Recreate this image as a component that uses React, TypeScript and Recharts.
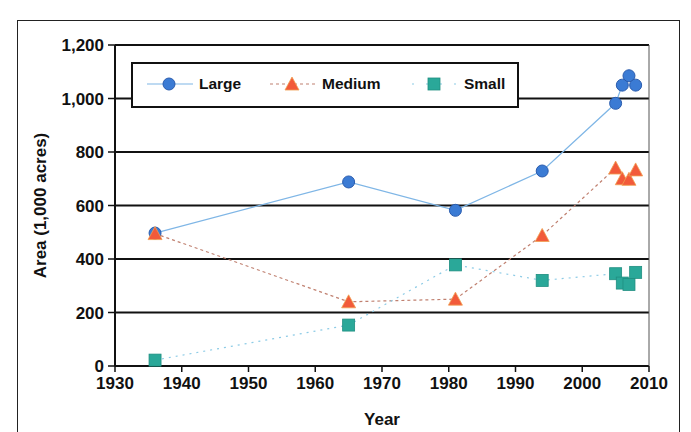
import React from 'react'
import { CartesianGrid, Line, LineChart, XAxis, YAxis } from 'recharts'

const years = [1936, 1965, 1981, 1994, 2005, 2006, 2007, 2008]
const large = [497, 688, 582, 729, 982, 1050, 1085, 1050]
const medium = [495, 240, 250, 488, 740, 700, 698, 733]
const small = [22, 153, 378, 320, 345, 310, 305, 350]
const xTicks = [1930, 1940, 1950, 1960, 1970, 1980, 1990, 2000, 2010]
const yTicks = [0, 200, 400, 600, 800, 1000, 1200]

const data = years.map((year, i) => ({ year, large: large[i], medium: medium[i], small: small[i] }))

const FONT = 'Arial, "Liberation Sans", sans-serif'

const Circle = (props: any) => {
  const { cx, cy } = props
  if (cx == null || cy == null) return null
  return <circle cx={cx} cy={cy} r={6} fill="#3b7bd4" stroke="#2a5cae" strokeWidth={1} />
}

const Triangle = (props: any) => {
  const { cx, cy } = props
  if (cx == null || cy == null) return null
  return (
    <polygon
      points={`${cx},${cy - 7} ${cx - 7},${cy + 6} ${cx + 7},${cy + 6}`}
      fill="#f25a3a"
      stroke="#f0a050"
      strokeWidth={0.8}
    />
  )
}

const Square = (props: any) => {
  const { cx, cy } = props
  if (cx == null || cy == null) return null
  return <rect x={cx - 6} y={cy - 6} width={12} height={12} fill="#2aa899" stroke="#1f8e80" strokeWidth={0.8} />
}

function LegendBox() {
  const item = (label: string, color: string, dash: string | undefined, marker: React.ReactNode, left: number) => (
    <div style={{ position: 'absolute', left, top: 10, display: 'flex', alignItems: 'center' }}>
      <svg width={46} height={20}>
        <line x1={0} y1={10} x2={46} y2={10} stroke={color} strokeWidth={1.2} strokeDasharray={dash} />
        {marker}
      </svg>
      <span style={{ marginLeft: 6, fontFamily: FONT, fontWeight: 'bold', fontSize: 15.5, color: '#111' }}>{label}</span>
    </div>
  )
  return (
    <div
      style={{
        position: 'absolute',
        left: 131,
        top: 62,
        width: 388,
        height: 46,
        border: '2px solid #111',
        background: '#fff',
        boxSizing: 'border-box',
      }}
    >
      {item('Large', '#7fb6e6', undefined, <Circle cx={22} cy={10} />, 14)}
      {item('Medium', '#c08070', '3 3', <Triangle cx={22} cy={10} />, 137)}
      {item('Small', '#8ccbe6', '2 12', <Square cx={22} cy={10} />, 279)}
    </div>
  )
}

const YLabel = (props: any) => {
  const { viewBox } = props
  const cy = viewBox.y + viewBox.height / 2
  return (
    <text x={40} y={cy} dy={6} transform={`rotate(-90, 40, ${cy})`} textAnchor="middle" fontFamily={FONT} fontWeight="bold" fontSize={17} fill="#111">
      Area (1,000 acres)
    </text>
  )
}

export default function App() {
  return (
    <div style={{ position: 'absolute', left: 0, top: 0, width: 691, height: 432, background: '#fff', overflow: 'hidden' }}>
      <div
        style={{
          position: 'absolute',
          left: 17,
          top: 20,
          width: 663,
          height: 440,
          border: '1.5px solid #222',
          boxSizing: 'border-box',
        }}
      />
      <LineChart
        width={691}
        height={432}
        data={data}
        margin={{ top: 45, right: 41, left: 20, bottom: 0 }}
        style={{ position: 'absolute', left: 0, top: 0 }}
      >
        <CartesianGrid horizontal vertical={false} stroke="#111" strokeWidth={2} />
        <XAxis
          dataKey="year"
          type="number"
          domain={[1930, 2010]}
          ticks={xTicks}
          tick={{ fontFamily: FONT, fontWeight: 'bold', fontSize: 17, fill: '#111' }}
          tickSize={6}
          tickMargin={5}
          tickLine={{ stroke: '#111', strokeWidth: 1.5 }}
          axisLine={{ stroke: '#111', strokeWidth: 2 }}
          height={66}
          label={{ value: 'Year', position: 'insideBottom', offset: 7, fontFamily: FONT, fontWeight: 'bold', fontSize: 17, fill: '#111' }}
        />
        <YAxis
          type="number"
          domain={[0, 1200]}
          ticks={yTicks}
          interval={0}
          width={95}
          tickFormatter={(v: number) => v.toLocaleString('en-US')}
          tick={{ fontFamily: FONT, fontWeight: 'bold', fontSize: 17, fill: '#111' }}
          tickSize={7}
          tickMargin={4}
          tickLine={{ stroke: '#111', strokeWidth: 1.5 }}
          axisLine={{ stroke: '#111', strokeWidth: 2 }}
          label={<YLabel />}
        />
        <YAxis
          yAxisId="right"
          orientation="right"
          width={1}
          tick={false}
          tickLine={false}
          axisLine={{ stroke: '#555', strokeWidth: 1 }}
        />
        <Line
          dataKey="large"
          name="Large"
          stroke="#7fb6e6"
          strokeWidth={1.2}
          dot={<Circle />}
          activeDot={false}
          isAnimationActive={false}
        />
        <Line
          dataKey="medium"
          name="Medium"
          stroke="#c08070"
          strokeWidth={1.2}
          strokeDasharray="3 3"
          dot={<Triangle />}
          activeDot={false}
          isAnimationActive={false}
        />
        <Line
          dataKey="small"
          name="Small"
          stroke="#8ccbe6"
          strokeWidth={1.2}
          strokeDasharray="2 5"
          dot={<Square />}
          activeDot={false}
          isAnimationActive={false}
        />
      </LineChart>
      <LegendBox />
    </div>
  )
}
